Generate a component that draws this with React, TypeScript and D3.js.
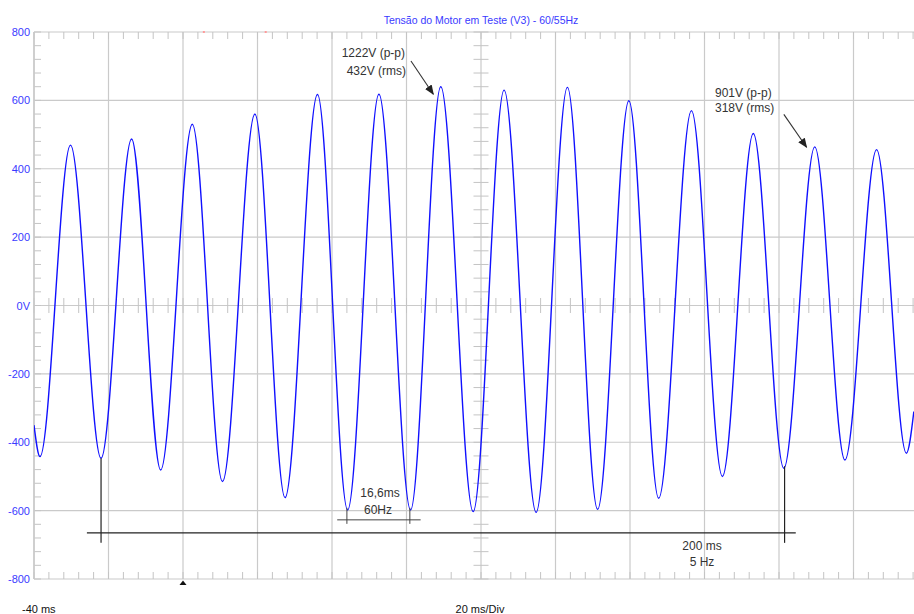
import * as d3 from 'd3';

// waveform extrema (time in ms, volts)
const waveTimes = [
  -40, -38.4, -30.2, -22.0, -13.8, -6.0, 2.5, 10.6, 19.3, 27.4, 36.1, 44.2, 52.6, 61.1, 69.2,
  77.9, 86.2, 94.8, 103.2, 111.3, 119.7, 127.7, 136.5, 144.8, 153.1, 161.3, 169.6, 177.7, 186.2,
  194.2, 196.2,
];
const waveVolts = [
  -350, -442, 469, -447, 487, -481, 530, -515, 560, -562, 617, -598, 618, -598, 640,
  -603, 630, -605, 638, -596, 599, -564, 570, -500, 503, -476, 464, -452, 456,
  -432, -310,
];

const yTickValues = [800, 600, 400, 200, 0, -200, -400, -600, -800];
const yTickLabels = ['800', '600', '400', '200', '0V', '-200', '-400', '-600', '-800'];

const title = 'Tensão do Motor em Teste (V3) - 60/55Hz';
const timeStartLabel = '-40 ms';
const timeDivLabel = '20 ms/Div';

// cursors: [time ms] and the horizontal cursor level
const cursorTimes = [-22.0, 161.5];
const cursorStartVolts = [-447, -470];
const cursorLevel = -665;
const cursorSpan = [-25.8, 164.5];
const cursorLabel = ['200 ms', '5 Hz'];

const periodTimes = [44.0, 60.9];
const periodSpan = [41.4, 63.8];
const periodLevel = -627;
const periodLabel = ['16,6ms', '60Hz'];

const peakNote1 = ['1222V (p-p)', '432V (rms)'];
const peakNote2 = ['901V (p-p)', '318V (rms)'];

const W = 914;
const H = 614;
const left = 34;
const top = 32;
const right = 928;
const bottom = 579;

export default function App() {
  const x = d3.scaleLinear().domain([-40, 200]).range([left, right]);
  const y = d3.scaleLinear().domain([-800, 800]).range([bottom, top]);

  const majorX = d3.range(-40, 201, 20);
  const minorX = d3.range(-40, 201, 4);
  const minorY = d3.range(-800, 801, 40);

  const pts = waveTimes.map((t, i) => [t, waveVolts[i]] as [number, number]);
  const line = d3
    .line<[number, number]>()
    .x((d) => x(d[0]))
    .y((d) => y(d[1]))
    .curve(d3.curveMonotoneX);

  const grid = '#cacaca';
  const tickC = '#c4c4c4';
  const ink = '#333';
  const font = '"Liberation Sans", Arial, sans-serif';

  return (
    <svg
      width={W}
      height={H}
      style={{ position: 'fixed', left: 0, top: 0, background: '#fff', display: 'block' }}
      fontFamily={font}
    >
      <defs>
        <clipPath id="plot">
          <rect x={left} y={top} width={right - left} height={bottom - top} />
        </clipPath>
        <marker id="arr" viewBox="0 0 10 10" refX="9" refY="5" markerWidth="9" markerHeight="9" orient="auto">
          <path d="M0,1 L10,5 L0,9 Z" fill="#222" />
        </marker>
      </defs>

      <text x={481} y={24} textAnchor="middle" fontSize={10.5} fill="#3a3aff">{title}</text>

      {/* grid */}
      {majorX.map((t) => (
        <line key={'gx' + t} x1={x(t)} x2={x(t)} y1={top} y2={bottom} stroke={grid} strokeWidth={1.2} />
      ))}
      {yTickValues.map((v) => (
        <line key={'gy' + v} x1={left} x2={right} y1={y(v)} y2={y(v)} stroke={grid} strokeWidth={1.2} />
      ))}

      {/* minor ticks: frame and centre axes */}
      {minorX.map((t) => (
        <g key={'mx' + t} stroke={tickC} strokeWidth={1}>
          <line x1={x(t)} x2={x(t)} y1={top} y2={top + 7} />
          <line x1={x(t)} x2={x(t)} y1={bottom} y2={bottom - 7} />
          <line x1={x(t)} x2={x(t)} y1={y(0) - 7.5} y2={y(0) + 7.5} />
        </g>
      ))}
      {minorY.map((v) => (
        <g key={'my' + v} stroke={tickC} strokeWidth={1}>
          <line x1={left} x2={left + 7} y1={y(v)} y2={y(v)} />
          <line x1={x(80) - 7.5} x2={x(80) + 7.5} y1={y(v)} y2={y(v)} />
        </g>
      ))}
      <line x1={left} x2={left} y1={top} y2={bottom} stroke={grid} strokeWidth={1.5} />

      {/* y labels */}
      {yTickValues.map((v, i) => (
        <text key={'yl' + v} x={30} y={y(v) + 4} textAnchor="end" fontSize={11} fill="#3a3aff">
          {yTickLabels[i]}
        </text>
      ))}

      {/* trigger markers */}
      <rect x={x(5.6) - 1} y={top - 1} width={2} height={2} fill="#ff9a9a" />
      <rect x={x(22.2) - 1} y={top - 1} width={2} height={2} fill="#ff9a9a" />
      <path d={`M${x(0) - 3.5},${bottom + 6} L${x(0) + 3.5},${bottom + 6} L${x(0)},${bottom + 1.5} Z`} fill="#111" />

      {/* trace */}
      <g clipPath="url(#plot)">
        <path d={line(pts) ?? ''} fill="none" stroke="#1010ff" strokeWidth={1.4} strokeLinejoin="round" />
      </g>

      {/* long cursor */}
      <g stroke="#222" strokeWidth={1.2}>
        <line x1={x(cursorSpan[0])} x2={x(cursorSpan[1])} y1={y(cursorLevel)} y2={y(cursorLevel)} />
        {cursorTimes.map((t, i) => (
          <line key={'c' + i} x1={x(t)} x2={x(t)} y1={y(cursorStartVolts[i])} y2={y(cursorLevel) + 10} />
        ))}
      </g>
      <text x={702} y={550} textAnchor="middle" fontSize={12} fill={ink}>{cursorLabel[0]}</text>
      <text x={702} y={566} textAnchor="middle" fontSize={12} fill={ink}>{cursorLabel[1]}</text>

      {/* period cursor */}
      <g stroke="#444" strokeWidth={1}>
        <line x1={x(periodSpan[0])} x2={x(periodSpan[1])} y1={y(periodLevel)} y2={y(periodLevel)} />
        {periodTimes.map((t, i) => (
          <line key={'p' + i} x1={x(t)} x2={x(t)} y1={y(-592)} y2={y(periodLevel) + 4} />
        ))}
      </g>
      <text x={380} y={497} textAnchor="middle" fontSize={12} fill={ink}>{periodLabel[0]}</text>
      <text x={378} y={514} textAnchor="middle" fontSize={12} fill={ink}>{periodLabel[1]}</text>

      {/* peak notes */}
      <text x={405} y={57} textAnchor="end" fontSize={12} fill={ink}>{peakNote1[0]}</text>
      <text x={406} y={75} textAnchor="end" fontSize={12} fill={ink}>{peakNote1[1]}</text>
      <line x1={x(61.2)} y1={y(715)} x2={x(67.2)} y2={y(618)} stroke="#333" strokeWidth={1.1} markerEnd="url(#arr)" />

      <text x={715} y={97} fontSize={12} fill={ink}>{peakNote2[0]}</text>
      <text x={715} y={112} fontSize={12} fill={ink}>{peakNote2[1]}</text>
      <line x1={x(161.3)} y1={y(559)} x2={x(167.4)} y2={y(463)} stroke="#333" strokeWidth={1.1} markerEnd="url(#arr)" />

      {/* time labels */}
      <text x={22} y={613} fontSize={11} fill="#111">{timeStartLabel}</text>
      <text x={480} y={613} textAnchor="middle" fontSize={11} fill="#111">{timeDivLabel}</text>
    </svg>
  );
}
